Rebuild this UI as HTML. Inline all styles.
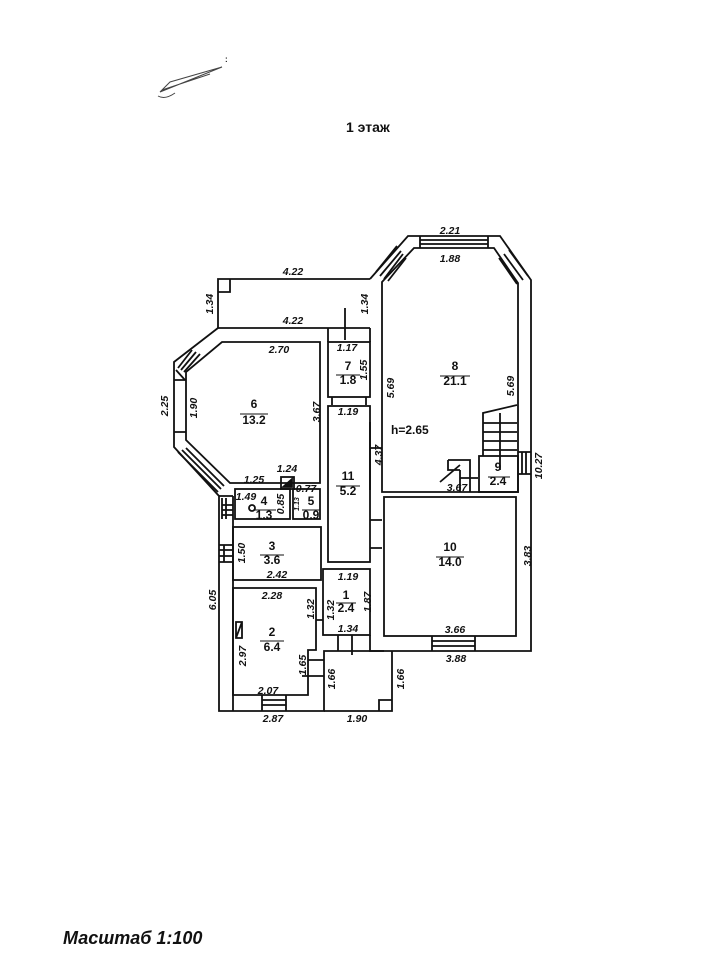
<!DOCTYPE html>
<html><head><meta charset="utf-8"><style>
html,body{margin:0;padding:0;background:#fff;}
svg{display:block;}
text{font-family:"Liberation Sans",Arial,sans-serif;font-weight:bold;fill:#111;}
</style></head><body>
<svg width="713" height="960" viewBox="0 0 713 960" xmlns="http://www.w3.org/2000/svg">
<g stroke="#444" fill="none" stroke-width="1">
<path d="M160 92 L222 67 L170 82 Z M162 90 L210 74"/>
<path d="M158 96 Q165 100 175 93"/>
</g>
<text x="225" y="62" font-size="8">:</text>
<text x="346" y="132" font-size="14">1 этаж</text>

<g stroke="#111" fill="none" stroke-width="1.8">
<path d="M370 279 L408 236 L500 236 L531 280 L531 651 L367 651"/>
<path d="M382 282 L414 248 L494 248 L518 283 L518 492 L382 492 Z"/>
<path d="M420 236 V248 M488 236 V248 M420 240 H488 M420 244 H488"/>
<path d="M376 272 L397 246 M388 281 L406 258 M380 276 L401 251 M384 279 L403 254"/>
<path d="M509 250 L528 276 M499 258 L517 284 M504 254 L523 280"/>
<rect x="384" y="497" width="132" height="139"/>
<path d="M432 636 V651 M475 636 V651 M432 641 H475 M432 646 H475"/>
<path d="M218 328 V279 H370 M218 292 H230 V279"/>
<path d="M218 328 H370"/>
<path d="M218 328 L174 362 L174 447 L219 496 L219 711 L324 711 L324 651 L367 651"/>
<path d="M324 711 L392 711 L392 651"/>
<path d="M379 711 V700 H392"/>
<path d="M222 342 L320 342 L320 483 L230 483 L186 440 L186 372 Z"/>
<path d="M178 368 L192 350 M184 372 L200 354 M181 370 L196 352 M176 370 L185 380"/>
<path d="M178 452 L218 492 M186 448 L224 486 M182 450 L221 489"/>
<path d="M174 380 H186 M174 432 H186"/>
<rect x="328" y="342" width="42" height="55"/>
<path d="M328 328 V342 M370 328 V342 M345 308 V340"/>
<path d="M332 397 V405 M366 397 V405"/>
<rect x="328" y="406" width="42" height="156"/>
<path d="M370 422 V448 H382 M370 448 V490 M370 520 H382 M370 548 H382"/>
<path d="M233 496 V711 M219 496 H233"/>
<rect x="235" y="489" width="55" height="30"/>
<rect x="293" y="489" width="27" height="30"/>
<rect x="281" y="477" width="13" height="12"/>
<path d="M283 487 L292 479 L292 487 Z" fill="#111"/>
<circle cx="252" cy="508" r="3"/>
<path d="M222 498 V519 M226 498 V519 M222 505 H233 M222 510 H233 M222 515 H233"/>
<rect x="233" y="527" width="88" height="53"/>
<path d="M219 545 H233 M219 550 H233 M219 556 H233 M219 562 H233 M224 545 V562"/>
<path d="M233 588 H316 V650 H308 V695 H233 Z"/>
<path d="M236 622 L242 622 L242 638 L236 638 Z M236 638 L242 622"/>
<path d="M262 695 V711 M286 695 V711 M262 700 H286 M262 705 H286"/>
<path d="M308 660 H324 M302 676 H324"/>
<rect x="323" y="569" width="47" height="66"/>
<path d="M316 620 H323 M338 635 V651 M352 635 V655 M370 635 V651 H384"/>
<path d="M483 456 V413 L517 405"/>
<path d="M483 423 H517 M483 432 H517 M483 441 H517 M483 450 H517 M500 413 V470"/>
<rect x="479" y="456" width="39" height="36"/>
<path d="M448 460 H470 V492 M448 460 V470 H460 M460 470 V492 M460 478 H478 M440 482 L460 465"/>
<path d="M518 452 H531 M518 474 H531 M522 452 V474 M526 452 V474"/>
</g>

<g font-size="10.5" text-anchor="middle" font-style="italic">
<text x="450" y="234">2.21</text>
<text x="450" y="262">1.88</text>
<text x="293" y="275">4.22</text>
<text x="293" y="324">4.22</text>
<text x="213" y="304" transform="rotate(-90 213 304)">1.34</text>
<text x="368" y="304" transform="rotate(-90 368 304)">1.34</text>
<text x="279" y="353">2.70</text>
<text x="347" y="351">1.17</text>
<text x="367" y="370" transform="rotate(-90 367 370)">1.55</text>
<text x="168" y="406" transform="rotate(-90 168 406)">2.25</text>
<text x="197" y="408" transform="rotate(-90 197 408)">1.90</text>
<text x="320" y="412" transform="rotate(-90 320 412)">3.67</text>
<text x="348" y="415">1.19</text>
<text x="394" y="388" transform="rotate(-90 394 388)">5.69</text>
<text x="514" y="386" transform="rotate(-90 514 386)">5.69</text>
<text x="542" y="466" transform="rotate(-90 542 466)">10.27</text>
<text x="287" y="472">1.24</text>
<text x="254" y="483">1.25</text>
<text x="306" y="492">0.77</text>
<text x="246" y="500">1.49</text>
<text x="284" y="504" transform="rotate(-90 284 504)">0.85</text>
<text x="299" y="504" transform="rotate(-90 299 504)" font-size="7">1.13</text>
<text x="382" y="455" transform="rotate(-90 382 455)">4.37</text>
<text x="457" y="491">3.67</text>
<text x="245" y="553" transform="rotate(-90 245 553)">1.50</text>
<text x="277" y="578">2.42</text>
<text x="272" y="599">2.28</text>
<text x="348" y="580">1.19</text>
<text x="314" y="609" transform="rotate(-90 314 609)">1.32</text>
<text x="334" y="610" transform="rotate(-90 334 610)">1.32</text>
<text x="371" y="602" transform="rotate(-90 371 602)">1.87</text>
<text x="348" y="632">1.34</text>
<text x="531" y="556" transform="rotate(-90 531 556)">3.83</text>
<text x="455" y="633">3.66</text>
<text x="456" y="662">3.88</text>
<text x="216" y="600" transform="rotate(-90 216 600)">6.05</text>
<text x="246" y="656" transform="rotate(-90 246 656)">2.97</text>
<text x="306" y="665" transform="rotate(-90 306 665)">1.65</text>
<text x="335" y="679" transform="rotate(-90 335 679)">1.66</text>
<text x="404" y="679" transform="rotate(-90 404 679)">1.66</text>
<text x="268" y="694">2.07</text>
<text x="273" y="722">2.87</text>
<text x="357" y="722">1.90</text>
</g>
<text x="391" y="434" font-size="12" font-weight="normal">h=2.65</text>

<g font-size="12" text-anchor="middle">
<text x="455" y="370">8</text><text x="455" y="385">21.1</text>
<text x="254" y="408">6</text><text x="254" y="424">13.2</text>
<text x="348" y="370">7</text><text x="348" y="384">1.8</text>
<text x="348" y="480">11</text><text x="348" y="495">5.2</text>
<text x="498" y="471">9</text><text x="498" y="485">2.4</text>
<text x="264" y="505">4</text><text x="264" y="519">1.3</text>
<text x="311" y="505">5</text><text x="311" y="519">0.9</text>
<text x="272" y="550">3</text><text x="272" y="564">3.6</text>
<text x="346" y="599">1</text><text x="346" y="612">2.4</text>
<text x="272" y="636">2</text><text x="272" y="651">6.4</text>
<text x="450" y="551">10</text><text x="450" y="566">14.0</text>
</g>
<g stroke="#111" stroke-width="1">
<path d="M440 376 H470 M240 414 H268 M336 375 H360 M336 486 H360 M488 477 H510 M254 510 H276 M302 510 H320 M260 555 H284 M336 603 H356 M260 641 H284 M436 557 H464"/>
</g>
<text x="63" y="944" font-size="18" font-style="italic">Масштаб 1:100</text>
</svg>
</body></html>
